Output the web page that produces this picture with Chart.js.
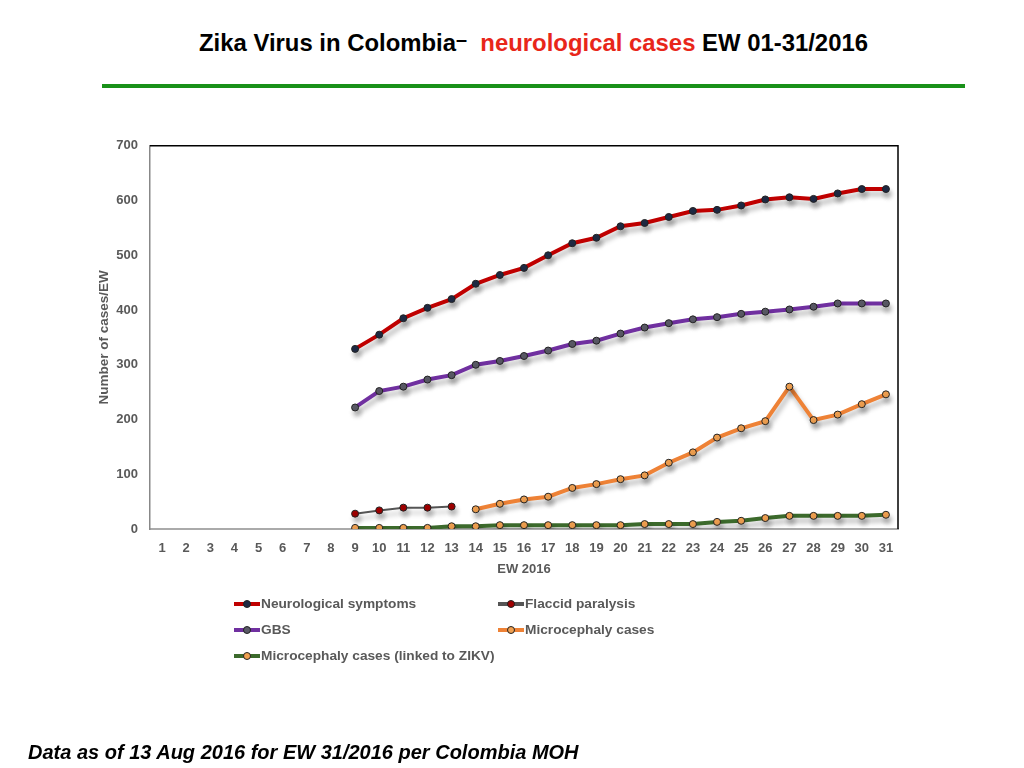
<!DOCTYPE html>
<html>
<head>
<meta charset="utf-8">
<script src="https://cdn.jsdelivr.net/npm/chart.js@4.4.1/dist/chart.umd.min.js"></script>
<style>
  html, body { margin: 0; padding: 0; background: #fff; width: 1024px; height: 768px; overflow: hidden; }
  #title { position: absolute; top: 29px; left: 199px; transform-origin: 0 0;
    font-family: "Liberation Sans", Arial, sans-serif;
    font-weight: bold; font-size: 24px; color: #000; white-space: nowrap; }
  #title .red { color: #E8261A; }
  #title .dash { position: relative; top: -5px; font-size: 20px; }
  #rule { position: absolute; left: 102px; top: 84px; width: 863px; height: 4px; background: #199119; }
  #wrap { position: absolute; left: 0; top: 126px; width: 1024px; height: 451px; }
  #legend { position: absolute; left: 0; top: 0; width: 1024px; height: 768px; pointer-events: none;
    font-family: "Liberation Sans", Arial, sans-serif; font-weight: bold; font-size: 13.7px; color: #595959; }
  .li { position: absolute; height: 16px; line-height: 16px; white-space: nowrap; }
  .li .mk { position: absolute; left: 0; top: 6px; width: 26px; height: 4px; }
  .li .dot { position: absolute; left: 9px; top: -2px; width: 6px; height: 6px; border-radius: 50%; border: 1px solid #222; }
  .li .tx { position: absolute; left: 27px; top: 0; }
  #footer { position: absolute; left: 28px; top: 741px; font-family: "Liberation Sans", Arial, sans-serif;
    font-weight: bold; font-style: italic; font-size: 20px; color: #000; white-space: nowrap; }
</style>
</head>
<body>
<div id="title">Zika Virus in Colombia<span class="dash">–</span>&nbsp; <span class="red">neurological cases</span> EW 01-31/2016</div>
<div id="rule"></div>
<div id="wrap"><canvas id="c" width="1024" height="451"></canvas></div>
<div id="legend"></div>
<div id="footer">Data as of 13 Aug 2016 for EW 31/2016 per Colombia MOH</div>
<script>
// ---- Data ----
const weeks = ['1','2','3','4','5','6','7','8','9','10','11','12','13','14','15','16','17','18','19','20','21','22','23','24','25','26','27','28','29','30','31'];
const yTicks = [0, 100, 200, 300, 400, 500, 600, 700];
const neurological = [null,null,null,null,null,null,null,null, 329,355,385,404,420,448,464,477,500,522,532,553,559,570,581,583,591,602,606,603,613,621,621];
const flaccid      = [null,null,null,null,null,null,null,null, 28,34,39,39,41, null,null,null,null,null,null,null,null,null,null,null,null,null,null,null,null,null,null];
const gbs          = [null,null,null,null,null,null,null,null, 222,252,260,273,281,300,307,316,326,338,344,357,368,376,383,387,393,397,401,406,412,412,412];
const microcephaly = [null,null,null,null,null,null,null,null, null,null,null,null,null,36,46,54,59,75,82,91,98,121,140,167,184,197,260,199,209,228,246];
const microZikv    = [null,null,null,null,null,null,null,null, 2,2,2,2,5,5,7,7,7,7,7,7,9,9,9,13,15,20,24,24,24,24,26];

const seriesNames = ['Neurological symptoms', 'Flaccid paralysis', 'GBS', 'Microcephaly cases', 'Microcephaly cases (linked to ZIKV)'];

// ---- Styles ----
const styles = [
  { line: '#C00000', point: '#1F2A44', width: 4 },
  { line: '#555555', point: '#A00000', width: 2 },
  { line: '#7030A0', point: '#5A5A66', width: 4 },
  { line: '#EE8236', point: '#F0A050', width: 4 },
  { line: '#3C6A2C', point: '#F0A050', width: 4 }
];
const values = [neurological, flaccid, gbs, microcephaly, microZikv];

const datasets = values.map((v, i) => ({
  label: seriesNames[i],
  data: v,
  borderColor: styles[i].line,
  borderWidth: styles[i].width,
  pointBackgroundColor: styles[i].point,
  pointBorderColor: '#222',
  pointBorderWidth: 1,
  pointRadius: 3.5,
  pointHoverRadius: 3.5,
  tension: 0,
  spanGaps: false,
  fill: false
}));
const order = [4, 3, 1, 2, 0];

const shadowPlugin = {
  id: 'shadow',
  beforeDatasetDraw(chart) {
    const ctx = chart.ctx;
    ctx.save();
    ctx.shadowColor = 'rgba(0,0,0,0.28)';
    ctx.shadowBlur = 5;
    ctx.shadowOffsetX = 2;
    ctx.shadowOffsetY = 5;
  },
  afterDatasetDraw(chart) { chart.ctx.restore(); }
};

const framePlugin = {
  id: 'frame',
  afterDraw(chart) {
    const { ctx, chartArea: a } = chart;
    ctx.save();
    ctx.strokeStyle = '#000';
    ctx.lineWidth = 1.5;
    ctx.beginPath();
    ctx.moveTo(a.left, a.top);
    ctx.lineTo(a.right, a.top);
    ctx.lineTo(a.right, a.bottom);
    ctx.stroke();
    ctx.restore();
  }
};

const tickFont = { family: 'Liberation Sans', weight: 'bold', size: 13 };

const chart = new Chart(document.getElementById('c'), {
  type: 'line',
  data: { labels: weeks, datasets: order.map(i => datasets[i]) },
  options: {
    responsive: false,
    animation: false,
    events: [],
    layout: { padding: { left: 90, right: 126, top: 12, bottom: 0 } },
    plugins: { legend: { display: false }, tooltip: { enabled: false }, title: { display: false } },
    scales: {
      x: {
        type: 'category',
        offset: true,
        grid: { display: false, drawTicks: false },
        border: { display: true, color: '#AAAAAA', width: 2 },
        ticks: { color: '#595959', font: tickFont, padding: 12, maxRotation: 0, autoSkip: false },
        title: { display: true, text: 'EW 2016', color: '#595959', font: tickFont, padding: { top: 0, bottom: 0 } },
        afterFit(s) { s.height = 48; }
      },
      y: {
        min: 0, max: 700,
        afterBuildTicks(s) { s.ticks = yTicks.map(v => ({ value: v })); },
        grid: { display: false, drawTicks: false },
        border: { display: true, color: '#888888', width: 1.5 },
        ticks: { color: '#595959', font: tickFont, padding: 12 },
        title: { display: true, text: 'Number of cases/EW', color: '#595959', font: { family: 'Liberation Sans', weight: 'bold', size: 13.5 }, padding: { top: 6, bottom: 0 } },
        afterFit(s) { s.width = 60; }
      }
    }
  },
  plugins: [shadowPlugin, framePlugin]
});

// ---- fit title to reference width ----
const t = document.getElementById('title');
const tw = t.getBoundingClientRect().width;
t.style.transform = 'scaleX(' + (669 / tw) + ')';

// ---- HTML legend built from series names/styles ----
const legendPos = [
  { left: 234, top: 596 }, { left: 498, top: 596 },
  { left: 234, top: 622 }, { left: 498, top: 622 },
  { left: 234, top: 648 }
];
const legend = document.getElementById('legend');
seriesNames.forEach((name, i) => {
  const d = document.createElement('div');
  d.className = 'li';
  d.style.left = legendPos[i].left + 'px';
  d.style.top = legendPos[i].top + 'px';
  d.innerHTML = '<div class="mk" style="background:' + styles[i].line + '"><div class="dot" style="background:' + styles[i].point + '"></div></div><div class="tx"></div>';
  d.querySelector('.tx').textContent = name;
  legend.appendChild(d);
});
</script>
</body>
</html>
